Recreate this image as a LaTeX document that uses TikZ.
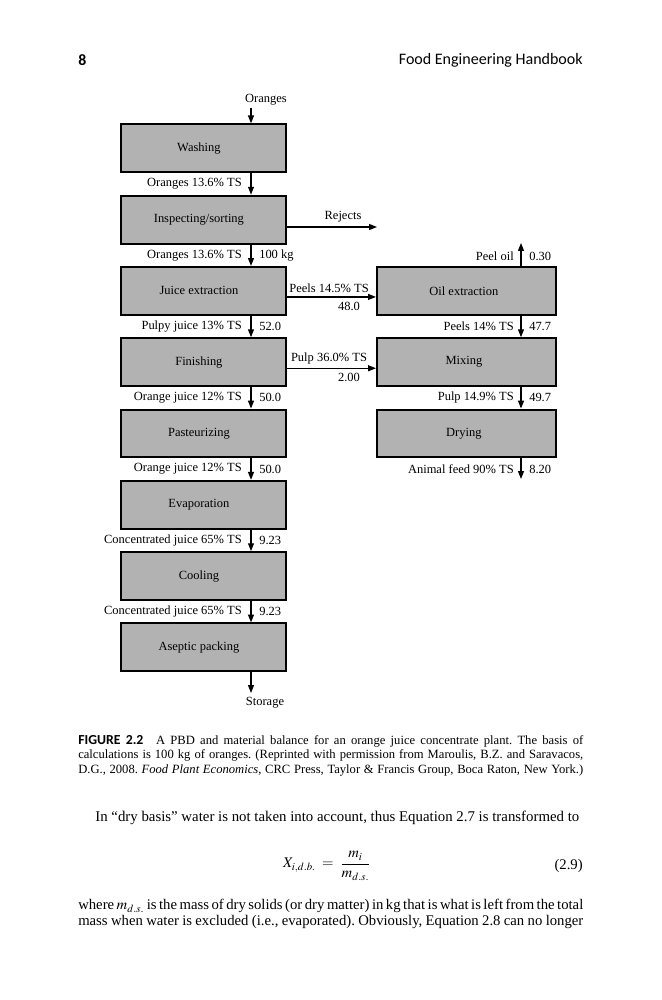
\documentclass[tikz,border=0pt]{standalone}
\usepackage{mathptmx}
\usepackage[no-math]{fontspec}
\setmainfont{Liberation Serif}
\newfontfamily\headfont{Carlito}
\usetikzlibrary{arrows.meta}
\frenchspacing
\tikzset{
  procbox/.style={draw, line width=1.5pt, fill=gray!60, minimum height=36.5pt,
    inner sep=0pt, font=\fontsize{9.5}{11}\selectfont},
  leftbox/.style={procbox, minimum width=125.6pt},
  rightbox/.style={procbox, minimum width=136.3pt},
  flow/.style={-{Triangle[length=6pt,width=4.5pt]}, line width=1pt},
  lbl/.style={inner sep=0pt, font=\fontsize{9.5}{11}\selectfont},
  para/.style={inner sep=0pt, text width=384.5pt, align=justify},
}
\begin{document}
\begin{tikzpicture}[x=0.7613pt, y=-0.7613pt]
  \useasboundingbox (0,0) rectangle (662,1000);
  \fill[white] (0,0) rectangle (662,1000);

  % page head
  \node[inner sep=0pt, anchor=west, font=\headfont\bfseries\fontsize{12}{14}\selectfont] (pageno) at (78,60) {8};
  \node[inner sep=0pt, anchor=east, font=\headfont\fontsize{12.2}{14}\selectfont] (runhead) at (583,60) {Food Engineering Handbook};

  % columns of the flow lines
  \coordinate (ax) at (251,0);
  \coordinate (bx) at (521,0);

  % main line
  \foreach \nm/\txt [count=\k from 0] in {wash/Washing, insp/Inspecting\slash sorting,
      juice/Juice extraction, finish/Finishing, pasteur/Pasteurizing,
      evap/Evaporation, cool/Cooling, aseptic/Aseptic packing}{
    \node[leftbox] (\nm) at (203.5, 148.3+71.3*\k) {\txt\hspace*{7pt}};
  }
  % by-product line
  \foreach \nm/\txt [count=\k from 2] in {oilx/Oil extraction, mixing/Mixing, drying/Drying}{
    \node[rightbox] (\nm) at (466.5, 148.3+71.3*\k) {\txt\hspace*{4pt}};
  }

  \node[lbl] (oranges) at (266,100) {Oranges};
  \coordinate (feedin) at (251,108);
  \draw[flow] (feedin) -- (wash.north -| ax);

  \foreach \a/\b/\lt/\val [count=\k] in {
      wash/insp/{Oranges 13.6\% TS}/{},
      insp/juice/{Oranges 13.6\% TS}/{100 kg},
      juice/finish/{Pulpy juice 13\% TS}/{52.0},
      finish/pasteur/{Orange juice 12\% TS}/{50.0},
      pasteur/evap/{Orange juice 12\% TS}/{50.0},
      evap/cool/{Concentrated juice 65\% TS}/{9.23},
      cool/aseptic/{Concentrated juice 65\% TS}/{9.23}}{
    \draw[flow] (\a.south -| ax) -- (\b.north -| ax);
    \node[lbl, anchor=east] (lt\k) at (242, 112.6+71.3*\k) {\lt};
    \node[lbl, anchor=west] (val\k) at (259, 112.6+71.3*\k) {\val};
  }

  \coordinate (store) at (251,693);
  \draw[flow] (aseptic.south -| ax) -- (store);
  \node[lbl] (storage) at (265,703) {Storage};

  % side streams
  \coordinate (rej) at (377,227);
  \draw[flow] (insp.east |- rej) -- (rej);
  \node[lbl] (rejects) at (343,217) {Rejects};

  \draw[flow] ([yshift=-4.6pt]juice.east) -- ([yshift=-4.6pt]oilx.west);
  \node[lbl] (peels) at (329,288) {Peels 14.5\% TS};
  \node[lbl] (peelskg) at (349,306) {48.0};

  \draw[flow] ([yshift=-4.6pt]finish.east) -- ([yshift=-4.6pt]mixing.west);
  \node[lbl] (pulp) at (329,358) {Pulp 36.0\% TS};
  \node[lbl] (pulpkg) at (349,377) {2.00};

  \coordinate (oilout) at (521,243);
  \draw[flow] (oilx.north -| bx) -- (oilout);
  \node[lbl, anchor=east] (peeloil) at (514,256) {Peel oil};
  \node[lbl, anchor=west] (peeloilkg) at (529,256) {0.30};

  \draw[flow] (oilx.south -| bx) -- (mixing.north -| bx);
  \node[lbl, anchor=east] (peelsb) at (514,326.5) {Peels 14\% TS};
  \node[lbl, anchor=west] (peelsbkg) at (529,326.5) {47.7};

  \draw[flow] (mixing.south -| bx) -- (drying.north -| bx);
  \node[lbl, anchor=east] (pulpb) at (514,397.8) {Pulp 14.9\% TS};
  \node[lbl, anchor=west] (pulpbkg) at (529,397.8) {49.7};

  \coordinate (feedout) at (521,479);
  \draw[flow] (drying.south -| bx) -- (feedout);
  \node[lbl, anchor=east] (feed) at (514,469) {Animal feed 90\% TS};
  \node[lbl, anchor=west] (feedkg) at (529,469) {8.20};

  % caption and running text
  \node[para, anchor=north west, font=\fontsize{9.6}{11}\selectfont] (caption) at (78,735)
    {{\headfont\bfseries\fontsize{10.5}{11}\selectfont FIGURE 2.2}\quad A PBD and material balance for an orange juice concentrate plant. The basis of\linebreak
     calculations is 100 kg of oranges. (Reprinted with permission from Maroulis, B.Z. and Saravacos,\linebreak
     D.G., 2008. \textit{Food Plant Economics}, CRC Press, Taylor \& Francis Group, Boca Raton, New York.)\parfillskip=0pt\par};

  \node[para, anchor=north west, font=\fontsize{11.3}{12.4}\selectfont] (text1) at (78,811)
    {\hspace*{13pt}In “dry basis” water is not taken into account, thus Equation 2.7 is transformed to};

  \node[inner sep=0pt, font=\fontsize{11.2}{12.4}\selectfont] (eq) at (327,866)
    {$\displaystyle X_{i,d.b.} \;=\; \frac{m_i}{m_{d.s.}}$};
  \node[inner sep=0pt, anchor=east, font=\fontsize{11.2}{12.4}\selectfont] (eqno) at (583,866) {(2.9)};

  \node[para, anchor=north west, font=\fontsize{11.2}{12.4}\selectfont] (text2) at (78,899)
    {where $m_{d.s.}$ is the mass of dry solids (or dry matter) in kg that is what is left from the total\linebreak
     mass when water is excluded (i.e., evaporated). Obviously, Equation 2.8 can no longer\parfillskip=0pt\par};
\end{tikzpicture}
\end{document}
